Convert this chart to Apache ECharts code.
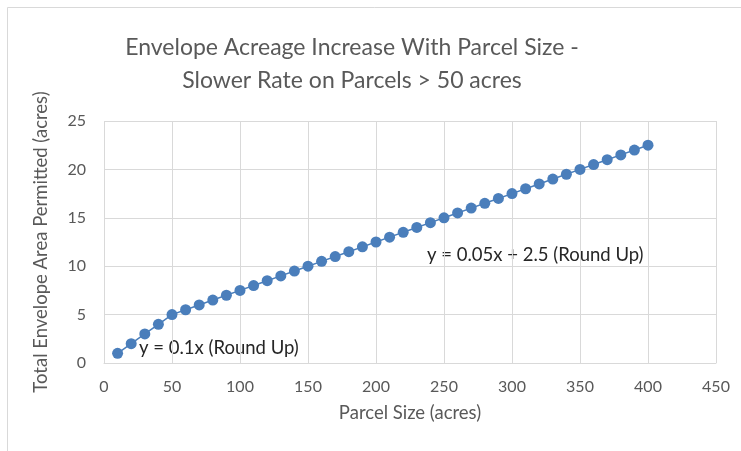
<!DOCTYPE html>
<html><head><meta charset="utf-8">
<script src="https://cdn.jsdelivr.net/npm/echarts@6/dist/echarts.min.js"></script>
<style>html,body{margin:0;padding:0;background:#fff;}#c{width:741px;height:451px;}</style>
</head><body><div id="c"></div>
<script>
const titleLines = ["Envelope Acreage Increase With Parcel Size -", "Slower Rate on Parcels > 50 acres"];
const xAxisName = "Parcel Size (acres)";
const yAxisName = "Total Envelope Area Permitted (acres)";
const parcelSizes = [10,20,30,40,50,60,70,80,90,100,110,120,130,140,150,160,170,180,190,200,210,220,230,240,250,260,270,280,290,300,310,320,330,340,350,360,370,380,390,400];
const envelopeAcres = [1,2,3,4,5,5.5,6,6.5,7,7.5,8,8.5,9,9.5,10,10.5,11,11.5,12,12.5,13,13.5,14,14.5,15,15.5,16,16.5,17,17.5,18,18.5,19,19.5,20,20.5,21,21.5,22,22.5];
const annotations = ["y = 0.1x (Round Up)", "y = 0.05x + 2.5 (Round Up)"];

const chart = echarts.init(document.getElementById('c'), null, {renderer:'canvas'});
const font = 'Lato, "Open Sans", sans-serif';
chart.setOption({
  animation:false,
  backgroundColor:'#fff',
  title:{text:titleLines.join('\n'), left:347, textAlign:'center', top:26,
    textStyle:{fontFamily:font, fontWeight:'normal', fontSize:23, color:'#595959', lineHeight:33}},
  grid:{left:104, right:25, top:121, bottom:88},
  xAxis:{type:'value', min:0, max:450, interval:50,
    name:xAxisName, nameLocation:'middle', nameGap:41,
    nameTextStyle:{fontFamily:font, fontSize:18.5, color:'#595959'},
    axisLine:{show:true, lineStyle:{color:'#d9d9d9', width:1}}, axisTick:{show:false},
    axisLabel:{fontFamily:font, fontSize:16, color:'#595959', margin:16},
    splitLine:{show:true, lineStyle:{color:'#d9d9d9', width:1}}},
  yAxis:{type:'value', min:0, max:25, interval:5,
    name:yAxisName, nameLocation:'middle', nameGap:53, nameRotate:90,
    nameTextStyle:{fontFamily:font, fontSize:18.5, color:'#595959'},
    axisLine:{show:false}, axisTick:{show:false},
    axisLabel:{fontFamily:font, fontSize:16, color:'#595959', margin:18},
    splitLine:{show:true, lineStyle:{color:'#d9d9d9', width:1}}},
  series:[{type:'line', data:parcelSizes.map((x,i)=>[x, envelopeAcres[i]]),
    symbol:'circle', symbolSize:11, itemStyle:{color:'#4a7ebb'},
    lineStyle:{color:'#4a7ebb', width:1.5}}],
  graphic:[
    {type:'rect', shape:{x:7.5, y:7.5, width:900, height:600}, style:{fill:'none', stroke:'#d9d9d9', lineWidth:1}, z:-1, silent:true},
    {type:'text', left:139, top:339, style:{text:annotations[0], font:'18.5px '+font, fill:'#262626'}},
    {type:'text', left:427, top:246, style:{text:annotations[1], font:'18.5px '+font, fill:'#262626'}}
  ]
});
</script></body></html>
